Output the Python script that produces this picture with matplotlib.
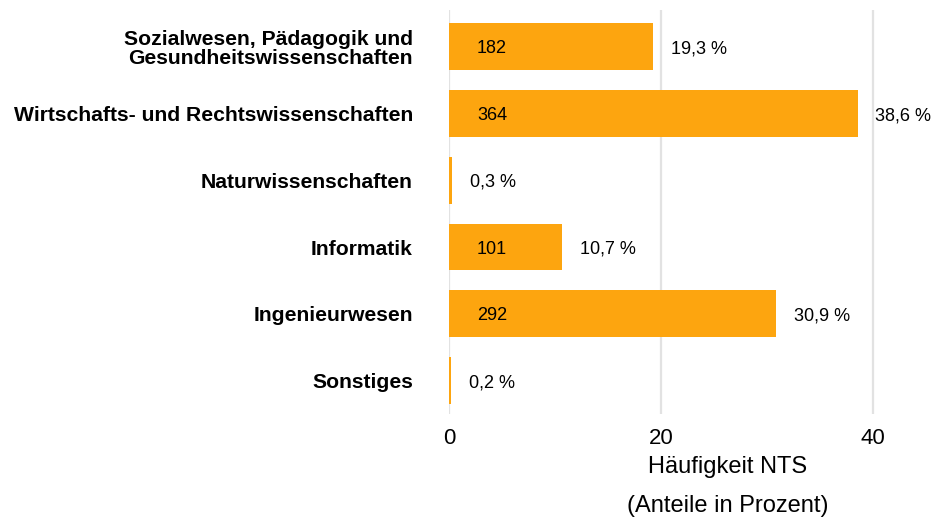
import matplotlib
matplotlib.use("Agg")
import matplotlib.pyplot as plt

categories = ["Sozialwesen, Pädagogik und\nGesundheitswissenschaften",
              "Wirtschafts- und Rechtswissenschaften",
              "Naturwissenschaften",
              "Informatik",
              "Ingenieurwesen",
              "Sonstiges"]
percent = [19.3, 38.6, 0.3, 10.7, 30.9, 0.2]
counts = [182, 364, None, 101, 292, None]
ticks = [0, 20, 40]

plt.rcParams['font.family'] = ['Liberation Sans', 'DejaVu Sans']

fig = plt.figure(figsize=(9.34, 5.2), dpi=100)
ax = fig.add_axes([449/934, 1-414/520, (915-449)/934, (414-10)/520])

y = list(range(len(categories)))
ax.barh(y, percent, height=0.7, color='#FDA50F', zorder=3)
ax.set_ylim(5.5, -0.55)
ax.set_xlim(0, 44)
ax.set_xticks(ticks)
ax.set_xticklabels([str(t) for t in ticks], fontsize=16)
ax.grid(axis='x', color='#E2E2E2', linewidth=1.6, zorder=0)
ax.grid(axis='y', visible=False)
for s in ax.spines.values():
    s.set_visible(False)
ax.tick_params(axis='both', length=0)
ax.tick_params(axis='x', pad=10)
ax.set_yticks(y)
ax.set_yticklabels(categories, fontsize=15.2, fontweight='bold', linespacing=1.0)
ax.tick_params(axis='y', pad=26)

for yi, p, c in zip(y, percent, counts):
    if c is not None:
        ax.annotate(str(c), xy=(0, yi), xytext=(28, -2), textcoords='offset pixels',
                    ha='left', va='center', fontsize=13, zorder=4)
    ax.annotate(f"{p:.1f} %".replace('.', ','), xy=(p, yi), xytext=(17.5, -2),
                textcoords='offset pixels', ha='left', va='center', fontsize=13, zorder=4)

ax.set_xlabel("Häufigkeit NTS\n(Anteile in Prozent)", fontsize=17, linespacing=2.0)
ax.xaxis.set_label_coords((728-449)/(915-449), -0.105)
ax.xaxis.label.set_va('top')

fig.savefig("out.png", dpi=100)
